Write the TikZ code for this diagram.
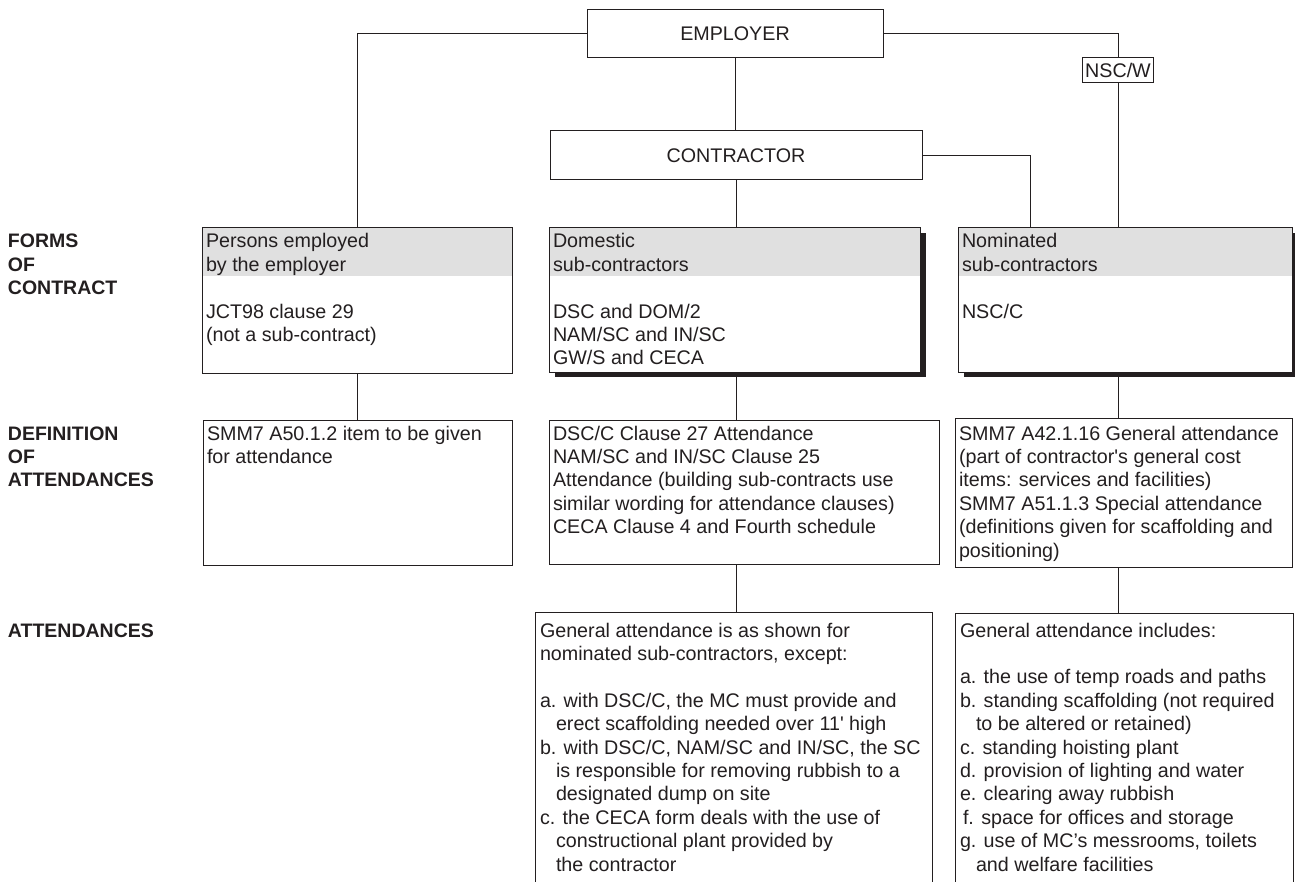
\documentclass[tikz,border=0pt]{standalone}
\usepackage{fontspec}
\setmainfont{Liberation Sans}
\usetikzlibrary{shadows}
\definecolor{ink}{RGB}{35,31,32}
\definecolor{hdr}{RGB}{224,224,224}
\newcommand{\bxt}[1]{\parbox[t]{420pt}{\raggedright #1}}
\newcommand{\ind}{\hspace*{16pt}}
\tikzset{
  ln/.style={draw=ink, line width=1pt},
  plainbox/.style={draw=ink, line width=1pt, fill=white, anchor=north west, inner sep=0pt, outer sep=0pt, text=ink},
  hdrbox/.style={plainbox, path picture={\fill[hdr] (path picture bounding box.north west) rectangle ([yshift=-48pt]path picture bounding box.north east);}},
  shbox/.style={hdrbox, drop shadow={shadow xshift=6pt, shadow yshift=-5pt, fill=ink, opacity=1}},
  txt/.style={anchor=base west, inner sep=0pt, outer sep=0pt, text=ink},
  lbl/.style={txt, font=\bfseries\fontsize{19.5}{23.4}\selectfont},
}
\begin{document}
\begin{tikzpicture}[x=1pt, y=-1pt, font=\fontsize{19.7}{23.4}\selectfont]
\useasboundingbox (0,0) rectangle (1295,882);
\clip (0,0) rectangle (1295,882);

% top level
\node[plainbox, minimum width=296pt, minimum height=48pt] (emp) at (587,10) {EMPLOYER};
\node[plainbox, minimum width=372pt, minimum height=49pt] (con) at (550,131) {CONTRACTOR};

% forms of contract
\node[hdrbox, minimum width=310pt, minimum height=145pt] (persons) at (202,228) {};
\node[shbox, minimum width=371pt, minimum height=144pt] (dom) at (549,228) {};
\node[shbox, minimum width=334pt, minimum height=144pt] (nom) at (958,228) {};

% definition of attendances
\node[plainbox, minimum width=309pt, minimum height=145pt] (defl) at (203,420) {};
\node[plainbox, minimum width=390pt, minimum height=144pt] (defm) at (549,420) {};
\node[plainbox, minimum width=337pt, minimum height=149pt] (defr) at (955,418) {};

% attendances (open at the bottom edge)
\node[plainbox, minimum width=397pt, minimum height=300pt] (attm) at (535,612) {};
\node[plainbox, minimum width=338pt, minimum height=300pt] (attr) at (955,613) {};

% connectors
\node[draw=ink, line width=1pt, fill=white, inner xsep=3pt, inner ysep=0pt, minimum height=25pt, text=ink] (nscw) at (1118,70.5) {NSC/W};
\draw[ln] (emp.west) -| (persons.north);
\draw[ln] (emp.east) -| (nscw.north);
\draw[ln] (nscw.south) -- (nscw.south |- nom.north);
\draw[ln] (emp.south) -- (emp.south |- con.north);
\draw[ln] (con.south) -- (con.south |- dom.north);
\draw[ln] (con.east) -| ([xshift=72pt]nom.north west);
\draw[ln] (persons.south) -- (persons.south |- defl.north);
\draw[ln] (con.south |- dom.south) -- (con.south |- defm.north);
\draw[ln] (nscw.south |- nom.south) -- (nscw.south |- defr.north);
\draw[ln] (con.south |- defm.south) -- (con.south |- attm.north);
\draw[ln] (nscw.south |- defr.south) -- (nscw.south |- attr.north);

% row labels
\node[lbl] (lforms) at (8,248) {\bxt{FORMS\\OF\\CONTRACT}};
\node[lbl] (ldef) at (8,440) {\bxt{DEFINITION\\OF\\ATTENDANCES}};
\node[lbl] (latt) at (8,637) {ATTENDANCES};

% texts in boxes
\node[txt] (tpersons) at (206,248) {\bxt{Persons employed\\by the employer\\[23.4pt]JCT98 clause 29\\(not a sub-contract)}};
\node[txt] (tdom) at (553,248) {\bxt{Domestic\\sub-contractors\\[23.4pt]DSC and DOM/2\\NAM/SC and IN/SC\\GW/S and CECA}};
\node[txt] (tnom) at (962,248) {\bxt{Nominated\\sub-contractors\\[23.4pt]NSC/C}};

\node[txt] (tdefl) at (207,440) {\bxt{SMM7 A50.1.2 item to be given\\for attendance}};
\node[txt] (tdefm) at (553,440) {\bxt{DSC/C Clause 27 Attendance\\NAM/SC and IN/SC Clause 25\\Attendance (building sub-contracts use\\similar wording for attendance clauses)\\CECA Clause 4 and Fourth schedule}};
\node[txt] (tdefr) at (959,440) {\bxt{SMM7 A42.1.16 General attendance\\(part of contractor\textquotesingle s general cost\\items: services and facilities)\\SMM7 A51.1.3 Special attendance\\(definitions given for scaffolding and\\positioning)}};

\node[txt] (tattm) at (540,637) {\bxt{General attendance is as shown for\\nominated sub-contractors, except:\\[23.4pt]a. with DSC/C, the MC must provide and\\\ind erect scaffolding needed over 11\textquotesingle{} high\\b. with DSC/C, NAM/SC and IN/SC, the SC\\\ind is responsible for removing rubbish to a\\\ind designated dump on site\\c. the CECA form deals with the use of\\\ind constructional plant provided by\\\ind the contractor}};
\node[txt] (tattr) at (960,637) {\bxt{General attendance includes:\\[23.4pt]a. the use of temp roads and paths\\b. standing scaffolding (not required\\\ind to be altered or retained)\\c. standing hoisting plant\\d. provision of lighting and water\\e. clearing away rubbish\\\hspace*{3pt}f. space for offices and storage\\g. use of MC’s messrooms, toilets\\\ind and welfare facilities}};
\end{tikzpicture}
\end{document}
